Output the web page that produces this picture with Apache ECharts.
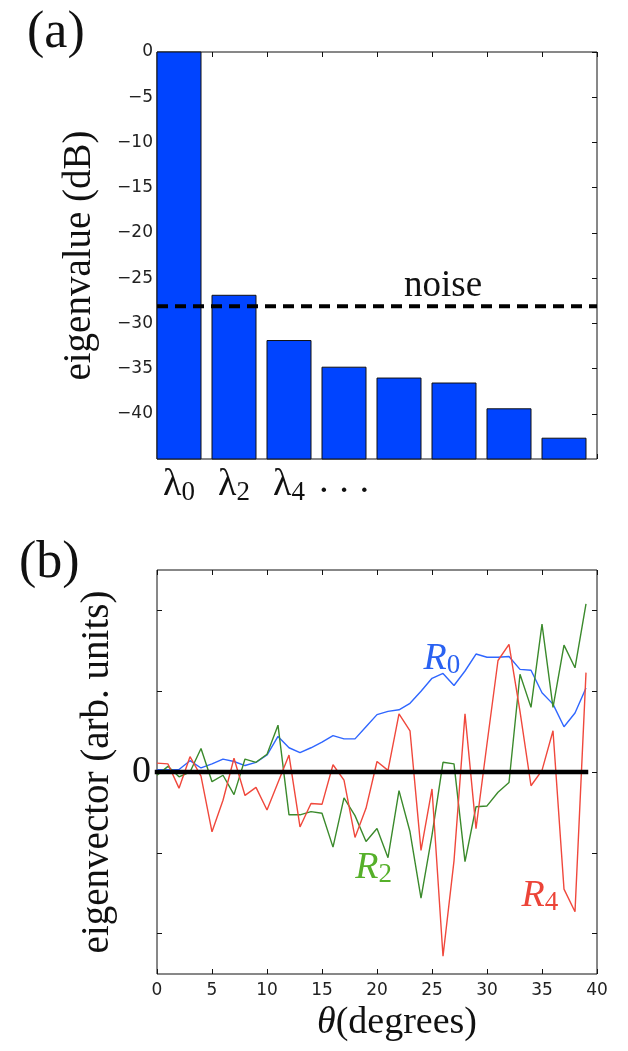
<!DOCTYPE html>
<html><head><meta charset="utf-8">
<script src="https://cdn.jsdelivr.net/npm/echarts@6/dist/echarts.min.js"></script>
<style>html,body{margin:0;padding:0;background:#fff}#c{width:628px;height:1051px}</style>
</head><body><div id="c"></div>
<script>
// ---------- Panel (a): eigenvalues ----------
const eigenPos = [0, 1, 2, 3, 4, 5, 6, 7];
const eigenValues = [0, -26.9, -31.9, -34.85, -36.05, -36.6, -39.45, -42.7];
const eigenLabelMain = ['λ', 'λ', 'λ', '·\u2009·\u2009·'];
const eigenLabelSub = ['0', '2', '4', ''];
const noiseLevel = -28.1;
const dbTicks = [-40, -35, -30, -25, -20, -15, -10, -5, 0];

// ---------- Panel (b): eigenvectors ----------
const theta = [0,1,2,3,4,5,6,7,8,9,10,11,12,13,14,15,16,17,18,19,20,21,22,23,24,25,26,27,28,29,30,31,32,33,34,35,36,37,38,39];
const R0 = [0.03,0.03,0.03,0.14,0.05,0.10,0.16,0.13,0.08,0.12,0.21,0.44,0.30,0.24,0.30,0.37,0.45,0.41,0.41,0.56,0.71,0.75,0.77,0.85,1.00,1.16,1.22,1.07,1.25,1.46,1.42,1.42,1.43,1.27,1.26,0.98,0.84,0.56,0.73,1.04];
const R2 = [-0.04,0.07,-0.06,0.0,0.29,-0.12,-0.04,-0.28,0.16,0.12,0.22,0.58,-0.53,-0.53,-0.49,-0.51,-0.93,-0.32,-0.54,-0.86,-0.70,-1.06,-0.23,-0.74,-1.56,-0.78,0.12,0.10,-1.11,-0.43,-0.42,-0.25,-0.13,1.21,0.80,1.83,0.80,1.57,1.29,2.08];
const R4 = [0.11,0.10,-0.20,0.19,-0.05,-0.74,-0.35,0.17,-0.29,-0.19,-0.47,-0.13,0.21,-0.68,-0.39,-0.40,0.09,-0.10,-0.81,-0.45,0.13,0.02,0.72,0.51,-0.97,-0.21,-2.28,-1.10,0.72,-0.70,0.35,1.38,1.58,0.75,-0.17,0.02,0.51,-1.45,-1.73,1.23];
const zeroLineX = [0, 39];
const vecTicks = [-2, -1, 0, 1, 2];
const vecLabels = [0];

const SERIF = "'Liberation Serif', 'DejaVu Serif', serif";
const SANS = "'DejaVu Sans', sans-serif";
const INK = '#111';
const yMinA = -45;
const barW = 0.8;

const chart = echarts.init(document.getElementById('c'), null, {renderer: 'canvas'});

const tick = extra => Object.assign({show: true, inside: true, length: 5, lineStyle: {color: INK, width: 1}}, extra || {});
const noLine = () => ({show: false, onZero: false});
const minus = v => String(v).replace('-', '\u2212');

const option = {
  backgroundColor: '#fff',
  animation: false,
  title: [
    {text: '(a)', left: 22, top: 2, textStyle: {fontFamily: SERIF, fontSize: 52, fontWeight: 'normal', color: INK}},
    {text: '(b)', left: 14, top: 532, textStyle: {fontFamily: SERIF, fontSize: 52, fontWeight: 'normal', color: INK}}
  ],
  grid: [
    {left: 157, top: 52, width: 440, height: 407, show: true, borderColor: INK, borderWidth: 1, backgroundColor: 'transparent'},
    {left: 157, top: 570, width: 440, height: 404, show: true, borderColor: INK, borderWidth: 1, backgroundColor: 'transparent'}
  ],
  xAxis: [
    { // 0: panel a bottom
      gridIndex: 0, type: 'value', min: 0, max: 8, interval: 1,
      axisLine: noLine(), splitLine: {show: false},
      axisTick: tick(),
      axisLabel: {
        customValues: eigenPos.slice(0, 4).map(p => p + barW / 2),
        margin: 6,
        formatter: v => {
          const i = Math.round(v - barW / 2);
          const m = eigenLabelMain[i], s = eigenLabelSub[i];
          return s ? '{m|' + m + '}{s|' + s + '}' : '{d|' + m + '}';
        },
        rich: {
          m: {fontFamily: SERIF, fontSize: 38, color: INK},
          s: {fontFamily: SERIF, fontSize: 27, color: INK, padding: [14, 0, 0, 0]},
          d: {fontFamily: SERIF, fontSize: 38, color: INK, padding: [8, 0, 0, 0]}
        }
      }
    },
    { // 1: panel a top ticks
      gridIndex: 0, type: 'value', position: 'top', min: 0, max: 8, interval: 1,
      axisLine: noLine(), splitLine: {show: false}, axisLabel: {show: false},
      axisTick: tick()
    },
    { // 2: panel b bottom
      gridIndex: 1, type: 'value', min: 0, max: 40, interval: 5,
      axisLine: noLine(), splitLine: {show: false},
      axisTick: tick(),
      axisLabel: {fontFamily: SANS, fontSize: 17, color: '#222', margin: 8},
      name: '{i|θ}(degrees)', nameLocation: 'middle', nameGap: 30,
      nameTextStyle: {fontFamily: SERIF, fontSize: 38, color: INK, padding: [0, 0, 0, 40],
        rich: {i: {fontFamily: SERIF, fontSize: 38, fontStyle: 'italic', color: INK}}}
    },
    { // 3: panel b top ticks
      gridIndex: 1, type: 'value', position: 'top', min: 0, max: 40, interval: 5,
      axisLine: noLine(), splitLine: {show: false}, axisLabel: {show: false},
      axisTick: tick()
    }
  ],
  yAxis: [
    { // 0: panel a left
      gridIndex: 0, type: 'value', min: yMinA, max: 0, interval: 5,
      axisLine: noLine(), splitLine: {show: false},
      axisTick: tick({customValues: dbTicks}),
      axisLabel: {
        customValues: dbTicks,
        fontFamily: SANS, fontSize: 17, color: '#222', margin: 4,
        formatter: v => minus(v)
      },
      name: 'eigenvalue (dB)', nameLocation: 'middle', nameGap: 58,
      nameTextStyle: {fontFamily: SERIF, fontSize: 39, color: INK}
    },
    { // 1: panel a right ticks
      gridIndex: 0, type: 'value', position: 'right', min: yMinA, max: 0, interval: 5,
      axisLine: noLine(), splitLine: {show: false}, axisLabel: {show: false},
      axisTick: tick({customValues: dbTicks})
    },
    { // 2: panel b left
      gridIndex: 1, type: 'value', min: -2.5, max: 2.5, interval: 0.5,
      axisLine: noLine(), splitLine: {show: false},
      axisTick: tick({customValues: vecTicks}),
      axisLabel: {customValues: vecLabels, fontFamily: SERIF, fontSize: 38, color: INK, margin: 6},
      name: 'eigenvector (arb. units)', nameLocation: 'middle', nameGap: 40,
      nameTextStyle: {fontFamily: SERIF, fontSize: 39, color: INK}
    },
    { // 3: panel b right ticks
      gridIndex: 1, type: 'value', position: 'right', min: -2.5, max: 2.5, interval: 0.5,
      axisLine: noLine(), splitLine: {show: false}, axisLabel: {show: false},
      axisTick: tick({customValues: vecTicks})
    }
  ],
  series: [
    {
      name: 'eigenvalues', type: 'custom', xAxisIndex: 0, yAxisIndex: 0,
      data: eigenPos.map((p, i) => [p, eigenValues[i]]),
      encode: {x: 0, y: 1},
      renderItem: (params, api) => {
        const x = api.value(0), v = api.value(1);
        const p1 = api.coord([x, v]);
        const p2 = api.coord([x + barW, yMinA]);
        return {
          type: 'rect',
          shape: {x: p1[0], y: p1[1], width: p2[0] - p1[0], height: p2[1] - p1[1]},
          style: {fill: '#0044ff', stroke: '#111', lineWidth: 1}
        };
      },
      z: 2
    },
    {
      name: 'noise', type: 'line', xAxisIndex: 0, yAxisIndex: 0,
      data: [[0, noiseLevel], [8, noiseLevel]],
      symbol: 'none',
      lineStyle: {color: '#000', width: 4, type: [11, 7]},
      z: 5,
      markPoint: {
        symbol: 'circle', symbolSize: 0,
        data: [{coord: [5.2, -25.9], label: {show: true, position: 'inside', formatter: 'noise',
          fontFamily: SERIF, fontSize: 37, color: INK}}]
      }
    },
    {
      name: 'R0', type: 'line', xAxisIndex: 2, yAxisIndex: 2,
      data: theta.map((t, i) => [t, R0[i]]),
      symbol: 'none', lineStyle: {color: '#2f66ff', width: 1.4}, z: 3,
      markPoint: {
        symbol: 'circle', symbolSize: 0,
        data: [{coord: [25.9, 1.40], label: {show: true, position: 'inside', formatter: '{r|R}{s|0}',
          rich: {r: {fontFamily: SERIF, fontStyle: 'italic', fontSize: 38, color: '#2a62f2'},
                 s: {fontFamily: SERIF, fontSize: 27, color: '#2a62f2', padding: [14, 0, 0, 0]}}}}]
      }
    },
    {
      name: 'R2', type: 'line', xAxisIndex: 2, yAxisIndex: 2,
      data: theta.map((t, i) => [t, R2[i]]),
      symbol: 'none', lineStyle: {color: '#3b8a2c', width: 1.4}, z: 3,
      markPoint: {
        symbol: 'circle', symbolSize: 0,
        data: [{coord: [19.7, -1.19], label: {show: true, position: 'inside', formatter: '{r|R}{s|2}',
          rich: {r: {fontFamily: SERIF, fontStyle: 'italic', fontSize: 38, color: '#56b02a'},
                 s: {fontFamily: SERIF, fontSize: 27, color: '#56b02a', padding: [14, 0, 0, 0]}}}}]
      }
    },
    {
      name: 'R4', type: 'line', xAxisIndex: 2, yAxisIndex: 2,
      data: theta.map((t, i) => [t, R4[i]]),
      symbol: 'none', lineStyle: {color: '#f0483c', width: 1.4}, z: 3,
      markPoint: {
        symbol: 'circle', symbolSize: 0,
        data: [{coord: [34.8, -1.53], label: {show: true, position: 'inside', formatter: '{r|R}{s|4}',
          rich: {r: {fontFamily: SERIF, fontStyle: 'italic', fontSize: 38, color: '#ec4438'},
                 s: {fontFamily: SERIF, fontSize: 27, color: '#ec4438', padding: [14, 0, 0, 0]}}}}]
      }
    },
    {
      name: 'zero', type: 'line', xAxisIndex: 2, yAxisIndex: 2,
      data: zeroLineX.map(x => [x, 0]),
      symbol: 'none', lineStyle: {color: '#000', width: 4.5, cap: 'square'}, z: 6
    }
  ]
};
chart.setOption(option);
</script>
</body></html>
